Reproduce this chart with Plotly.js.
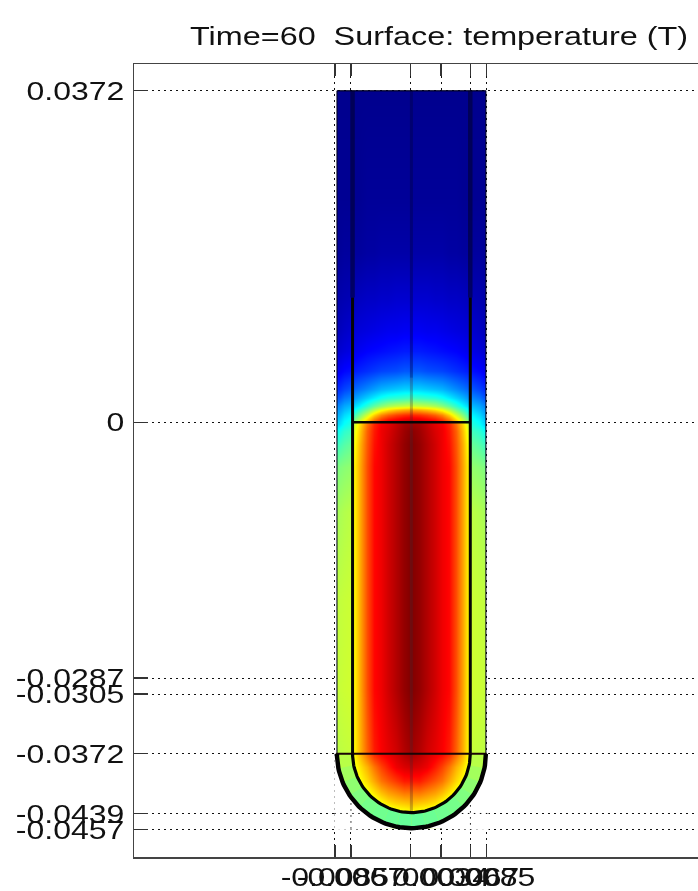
<!DOCTYPE html>
<html>
<head>
<meta charset="utf-8">
<script src="https://cdn.plot.ly/plotly-3.0.1.min.js"></script>
<style>html,body{margin:0;padding:0;background:#fff;overflow:hidden}</style>
</head>
<body>
<div id="chart" style="width:698px;height:891px;filter:blur(0.35px)"></div>
<script>
const chartTitle = 'Time=60  Surface: temperature (T)';
const xTickVals = [-0.0085, -0.0067, 0, 0.0034, 0.0067, 0.0085];
const xTickText = ['-0.0085', '-0.0067', '0', '0.0034', '0.0067', '0.0085'];
const yTickVals = [0.0372, 0, -0.0287, -0.0305, -0.0372, -0.0439, -0.0457];
const yTickText = ['0.0372', '0', '-0.0287', '-0.0305', '-0.0372', '-0.0439', '-0.0457'];

// tube geometry (data units)
const tubeCx = 0.00008, rOuter = 0.00835, rInner = 0.0066;
const tubeTop = 0.0372, interfaceY = 0, arcY = -0.0372;

// normalised temperature: column offsets from the axis (x1000), rows (y x1000)
const colOffsets = [0, 0.8, 1.7, 2.6, 3.4, 4.2, 5.0, 5.8, 6.5, 6.7, 7.6, 8.1];
const rowY = [37.1, 36.9, 25, 19, 13.7, 10.3, 8, 5.8, 3.8, 2.8, 1.9, 1.35, 0.8, 0.15, -0.15, -1, -2.5, -5, -10, -20, -30, -37, -38.7, -40.2, -41.7, -42.7, -43.7, -45.3, -45.5];
const tempRows = [
 [.015,.015,.015,.015,.015,.015,.015,.015,.015,.015,.015,.015],
 [.015,.015,.015,.015,.015,.015,.015,.015,.015,.015,.015,.015],
 [.025,.025,.025,.025,.025,.025,.025,.02,.02,.02,.02,.02],
 [.04,.04,.04,.04,.04,.035,.035,.03,.03,.03,.03,.025],
 [.08,.08,.08,.075,.075,.07,.07,.065,.06,.055,.05,.045],
 [.115,.115,.11,.11,.105,.10,.095,.09,.085,.08,.07,.06],
 [.15,.15,.145,.14,.135,.13,.125,.115,.105,.10,.09,.08],
 [.21,.21,.20,.195,.19,.18,.17,.16,.15,.14,.13,.115],
 [.33,.33,.32,.31,.30,.28,.26,.24,.22,.21,.19,.17],
 [.44,.43,.42,.41,.39,.36,.33,.30,.27,.26,.24,.21],
 [.58,.57,.56,.54,.51,.47,.42,.37,.33,.31,.29,.26],
 [.72,.71,.69,.66,.62,.56,.49,.43,.37,.34,.31,.28],
 [.84,.83,.81,.78,.74,.67,.58,.50,.42,.37,.34,.30],
 [.93,.92,.90,.88,.84,.78,.68,.58,.49,.40,.37,.33],
 [.97,.96,.93,.90,.88,.84,.76,.66,.56,.41,.38,.34],
 [.99,.97,.94,.91,.89,.85,.78,.68,.58,.44,.42,.39],
 [1,.98,.95,.92,.89,.86,.79,.70,.60,.48,.46,.44],
 [1,.98,.95,.92,.89,.87,.80,.71,.62,.52,.51,.50],
 [1,.98,.95,.92,.89,.87,.80,.71,.62,.56,.55,.54],
 [1,.98,.95,.92,.89,.87,.80,.71,.62,.575,.57,.565],
 [1,.98,.95,.92,.89,.87,.80,.71,.62,.58,.575,.57],
 [.97,.95,.92,.90,.88,.85,.78,.70,.62,.57,.565,.56],
 [.92,.91,.89,.85,.81,.76,.70,.65,.60,.55,.55,.55],
 [.85,.85,.82,.79,.76,.71,.66,.62,.59,.55,.55,.55],
 [.75,.75,.73,.71,.68,.64,.60,.58,.58,.55,.55,.55],
 [.69,.68,.67,.65,.62,.59,.58,.58,.58,.55,.55,.55],
 [.62,.61,.60,.58,.58,.58,.58,.58,.58,.55,.55,.55],
 [.58,.58,.58,.58,.58,.58,.58,.58,.58,.55,.55,.55],
 [.58,.58,.58,.58,.58,.58,.58,.58,.58,.55,.55,.55]
];
// wall temperature in the rounded bottom, from the straight wall to the lowest point
const wallArcTemps = [.555, .535, .515, .50, .49, .485, .48, .475];

const jetStops = [[0,[0,0,127]],[.125,[0,0,255]],[.375,[0,255,255]],[.625,[255,255,0]],[.875,[255,0,0]],[1,[127,0,0]]];
const jetScale = jetStops.map(s => [s[0], 'rgb(' + s[1].join(',') + ')']);
function jetColor(v) {
  for (let i = 1; i < jetStops.length; i++) {
    if (v <= jetStops[i][0]) {
      const a = jetStops[i-1], b = jetStops[i], t = (v - a[0]) / (b[0] - a[0]);
      return 'rgb(' + a[1].map((c, k) => Math.round(c + (b[1][k] - c) * t)).join(',') + ')';
    }
  }
  return 'rgb(127,0,0)';
}
function arcPoints(r, from, to, n) {
  const xs = [], ys = [];
  for (let i = 0; i <= n; i++) {
    const a = from + (to - from) * i / n;
    xs.push(tubeCx + r * Math.cos(a)); ys.push(arcY - r * Math.sin(a));
  }
  return [xs, ys];
}
const base = {type: 'scatter', mode: 'lines', hoverinfo: 'skip', showlegend: false};
const traces = [];

// temperature surface
const fullX = colOffsets.slice(1).reverse().map(v => tubeCx - v / 1000).concat(colOffsets.map(v => tubeCx + v / 1000));
const fullZ = tempRows.map(r => r.slice(1).reverse().concat(r));
traces.push({type: 'heatmap', x: fullX, y: rowY.map(v => v / 1000), z: fullZ, zmin: 0, zmax: 1,
  colorscale: jetScale, showscale: false, zsmooth: 'best', hoverinfo: 'skip'});

// white corners beside the rounded bottom
const maskBottom = arcY - rOuter - 0.0002, maskSide = rOuter + 0.0003;
[1, -1].forEach(side => {
  const p = arcPoints(rOuter, side > 0 ? 0 : Math.PI, Math.PI / 2, 40);
  traces.push(Object.assign({}, base, {
    x: [tubeCx + side * maskSide].concat(p[0], [tubeCx + side * maskSide]),
    y: [arcY].concat(p[1], [maskBottom]),
    fill: 'toself', fillcolor: '#fff', line: {width: 0, color: '#fff'}}));
});

// dotted grid continued over the white corners
const dotted = {color: '#111', width: 1, dash: '1.5px,4.5px'};
[-0.0439, -0.0457].forEach(y => {
  const d = arcY - y;
  if (d < rOuter) {
    const half = Math.sqrt(rOuter * rOuter - d * d);
    traces.push(Object.assign({}, base, {x: [tubeCx - maskSide, tubeCx - half], y: [y, y], line: dotted}));
    traces.push(Object.assign({}, base, {x: [tubeCx + half, tubeCx + maskSide], y: [y, y], line: dotted}));
  }
});
[-0.0067, 0.0034, 0.0067].forEach(x => {
  const dx = x - tubeCx;
  const yArc = arcY - Math.sqrt(rOuter * rOuter - dx * dx);
  traces.push(Object.assign({}, base, {x: [x, x], y: [yArc, maskBottom], line: dotted}));
});

// rounded wall, coloured band by band
const nb = wallArcTemps.length;
for (let i = 0; i < nb * 2; i++) {
  const temp = i < nb ? wallArcTemps[i] : wallArcTemps[2 * nb - 1 - i];
  const a0 = Math.PI * i / (2 * nb), a1 = Math.PI * (i + 1) / (2 * nb);
  const o = arcPoints(rOuter, a0, a1, 8), n = arcPoints(rInner, a1, a0, 8);
  const c = jetColor(temp);
  traces.push(Object.assign({}, base, {x: o[0].concat(n[0]), y: o[1].concat(n[1]),
    fill: 'toself', fillcolor: c, line: {width: 0.5, color: c}}));
}

// faint mesh line on the axis: dark in the cold part, greyish lower down
const axisSplitY = 0.005, wallSplitY = 0.014;
traces.push(Object.assign({}, base, {x: [tubeCx, tubeCx], y: [tubeTop, axisSplitY], line: {color: 'rgba(0,0,60,0.38)', width: 3}}));
traces.push(Object.assign({}, base, {x: [tubeCx, tubeCx], y: [axisSplitY, arcY - rInner], line: {color: 'rgba(70,40,50,0.3)', width: 3}}));
// inner-wall lines, dim in the cold part
[-1, 1].forEach(s => {
  traces.push(Object.assign({}, base, {x: [tubeCx + s * rInner, tubeCx + s * rInner], y: [tubeTop, wallSplitY], line: {color: 'rgba(0,0,50,0.6)', width: 4.5}}));
  traces.push(Object.assign({}, base, {x: [tubeCx + s * rInner, tubeCx + s * rInner], y: [wallSplitY, arcY], line: {color: '#050505', width: 3}}));
  traces.push(Object.assign({}, base, {x: [tubeCx + s * rOuter, tubeCx + s * rOuter], y: [tubeTop, arcY], line: {color: 'rgba(0,0,30,0.75)', width: 1.4}}));
});
traces.push(Object.assign({}, base, {x: [tubeCx - rOuter, tubeCx + rOuter], y: [tubeTop, tubeTop], line: {color: 'rgba(0,0,30,0.8)', width: 1.4}}));
traces.push(Object.assign({}, base, {x: [tubeCx - rInner, tubeCx + rInner], y: [interfaceY, interfaceY], line: {color: '#050505', width: 2.6}}));
traces.push(Object.assign({}, base, {x: [tubeCx - rOuter - 0.0001, tubeCx + rOuter + 0.0001], y: [arcY, arcY], line: {color: '#1a0505', width: 2}}));
const ao = arcPoints(rOuter, 0, Math.PI, 80), ai = arcPoints(rInner, 0, Math.PI, 80);
traces.push(Object.assign({}, base, {x: ao[0], y: ao[1], line: {color: '#020202', width: 4.4}}));
traces.push(Object.assign({}, base, {x: ai[0], y: ai[1], line: {color: '#020202', width: 3.2}}));

const pxPerUnit = 8917, xZeroPx = 410.7, yZeroPx = 422;
const axisFont = {family: '"Liberation Sans", Arial, sans-serif', size: 26, color: '#111'};
const layout = {
  width: 698, height: 891, autosize: false,
  margin: {l: 134, r: 0, t: 63.5, b: 34, pad: 0},
  paper_bgcolor: '#fff', plot_bgcolor: '#fff', showlegend: false,
  title: {text: chartTitle, font: {family: axisFont.family, size: 26, color: '#111'},
    x: 190 / 698, xref: 'container', xanchor: 'left', y: 1 - 45 / 891, yref: 'container', yanchor: 'bottom'},
  xaxis: {range: [(134 - xZeroPx) / pxPerUnit, (698 - xZeroPx) / pxPerUnit],
    tickmode: 'array', tickvals: xTickVals, ticktext: xTickText, tickangle: 0,
    ticks: 'inside', ticklen: 12, tickwidth: 1.3, tickcolor: '#333', ticklabelstandoff: -4,
    showline: true, linecolor: '#444', linewidth: 1.5, mirror: 'ticks',
    showgrid: true, gridcolor: '#111', gridwidth: 1, griddash: '1.5px,4.5px', zeroline: false,
    tickfont: axisFont},
  yaxis: {range: [(yZeroPx - 857) / pxPerUnit, (yZeroPx - 63.5) / pxPerUnit],
    tickmode: 'array', tickvals: yTickVals, ticktext: yTickText,
    ticks: 'inside', ticklen: 14, tickwidth: 1.3, tickcolor: '#333', ticklabelstandoff: 3,
    showline: true, linecolor: '#444', linewidth: 1.5,
    showgrid: true, gridcolor: '#111', gridwidth: 1, griddash: '1.5px,4.5px', zeroline: false,
    tickfont: axisFont}
};
Plotly.newPlot('chart', traces, layout, {displayModeBar: false, staticPlot: true}).then(gd => {
  // the reference lettering is stretched sideways
  const stretch = (el, w) => {
    el.style.whiteSpace = 'pre';
    el.setAttribute('lengthAdjust', 'spacingAndGlyphs');
    el.setAttribute('textLength', w);
  };
  gd.querySelectorAll('.xtick text, .ytick text').forEach(t => stretch(t, t.getComputedTextLength() * 1.23));
  const tt = gd.querySelector('.gtitle');
  if (tt) { tt.style.whiteSpace = 'pre'; stretch(tt, 498); }
});
</script>
</body>
</html>
